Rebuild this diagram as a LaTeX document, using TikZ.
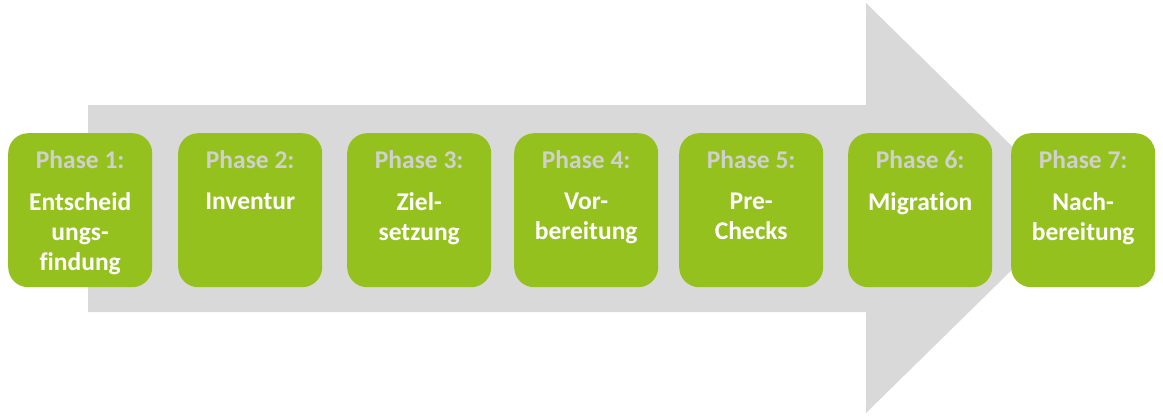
\documentclass[tikz,border=0pt]{standalone}
\usepackage{fontspec}
\setmainfont[Ligatures={NoCommon}]{Carlito}
\definecolor{phgreen}{HTML}{95C11F}
\definecolor{arrgray}{HTML}{D9D9D9}
\definecolor{lblgray}{HTML}{D0D0D0}
\begin{document}
\begin{tikzpicture}[x=1pt,y=-1pt,
  phase/.style={fill=phgreen,rounded corners=20pt,minimum width=144pt,minimum height=154pt,anchor=north west,inner sep=0pt},
  ttl/.style={font=\bfseries\fontsize{25.5}{30}\selectfont,text=lblgray,anchor=base},
  body/.style={font=\bfseries\fontsize{25.5}{30}\selectfont,text=white,align=center,anchor=north}]
\useasboundingbox (0,0) rectangle (1163,418);
\fill[arrgray] (88,105) -- (866,105) -- (866,3) -- (1075,208) -- (866,413) -- (866,312) -- (88,312) -- cycle;
\foreach \i/\x/\t in {1/8/{Entscheid\\ungs-\\findung},2/178/{Inventur},3/347/{Ziel-\\setzung},4/514/{Vor-\\bereitung},5/679/{Pre-\\Checks},6/848/{Migration},7/1011/{Nach-\\bereitung}}{
  \node[phase] (p\i) at (\x,133) {};
  \node[ttl] (t\i) at ([yshift=-35pt]p\i.north) {Phase \i:};
  \node[body] (b\i) at ([yshift=-56pt]p\i.north) {\t};
}
\end{tikzpicture}
\end{document}
